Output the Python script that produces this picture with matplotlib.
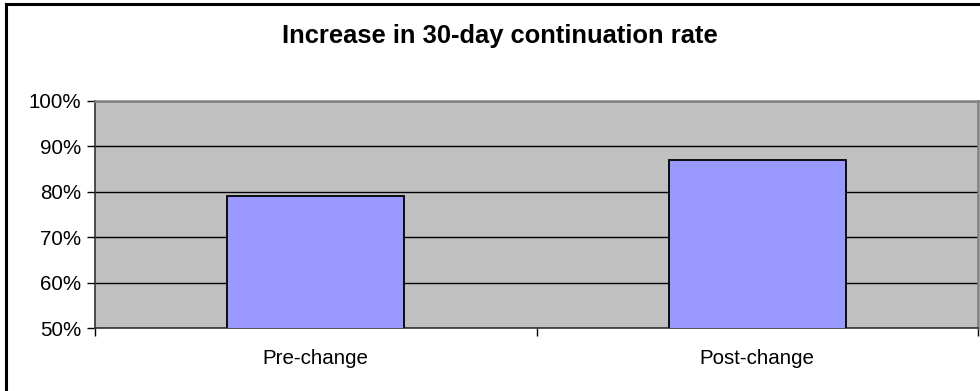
import matplotlib
matplotlib.use("Agg")
import matplotlib.pyplot as plt
from matplotlib.lines import Line2D
from matplotlib.ticker import FuncFormatter, FixedLocator

categories = ["Pre-change", "Post-change"]
rates = [0.79, 0.87]
y_ticks = [0.5, 0.6, 0.7, 0.8, 0.9, 1.0]
title = "Increase in 30-day continuation rate"

plt.rcParams["font.family"] = ["Liberation Sans", "DejaVu Sans"]

W, H = 980, 391
fig = plt.figure(figsize=(W / 100, H / 100), dpi=100)
fig.patch.set_facecolor("white")

# chart-area frame (left and top edges visible)
fig.add_artist(Line2D([6 / W, 6 / W], [0, 1 - 3.5 / H], transform=fig.transFigure,
                      color="black", lw=2.2, solid_capstyle="projecting"))
fig.add_artist(Line2D([6 / W, 1], [1 - 3.5 / H, 1 - 3.5 / H], transform=fig.transFigure,
                      color="black", lw=2.2, solid_capstyle="projecting"))

left, right, top, bottom = 95, 978, 101, 328
ax = fig.add_axes([left / W, 1 - bottom / H, (right - left) / W, (bottom - top) / H])
ax.set_facecolor("#C0C0C0")

x = list(range(len(categories)))
ax.bar(x, rates, width=0.4, bottom=0, color="#9999FF", edgecolor="black",
       linewidth=1.3, zorder=3)

ax.set_xlim(-0.5, len(categories) - 0.5)
ax.set_ylim(0.5, 1.0)
ax.set_yticks(y_ticks)
ax.yaxis.set_major_formatter(FuncFormatter(lambda v, _: f"{v * 100:.0f}%"))
ax.grid(axis="y", color="black", linewidth=1.0, zorder=1)
ax.set_axisbelow(True)

# category labels centred, tick marks on category boundaries
ax.xaxis.set_major_locator(FixedLocator([i - 0.5 for i in range(len(categories) + 1)]))
ax.set_xticklabels([])
ax.xaxis.set_minor_locator(FixedLocator(x))
ax.set_xticklabels(categories, minor=True)
ax.tick_params(axis="x", which="minor", length=0, labelsize=14.8, pad=15)
ax.tick_params(axis="x", which="major", length=6, width=1.0, color="black", direction="out")
ax.tick_params(axis="y", length=6, width=1.0, color="black", labelsize=14.8, pad=4)

for side in ("left", "bottom"):
    ax.spines[side].set_color("#333333")
    ax.spines[side].set_linewidth(1.2)
for side in ("top", "right"):
    ax.spines[side].set_color("#808080")
    ax.spines[side].set_linewidth(1.8)

fig.text(500 / W, 1 - 36 / H, title, ha="center", va="center",
         fontsize=18.4, fontweight="bold")

fig.savefig("out.png", dpi=100)
